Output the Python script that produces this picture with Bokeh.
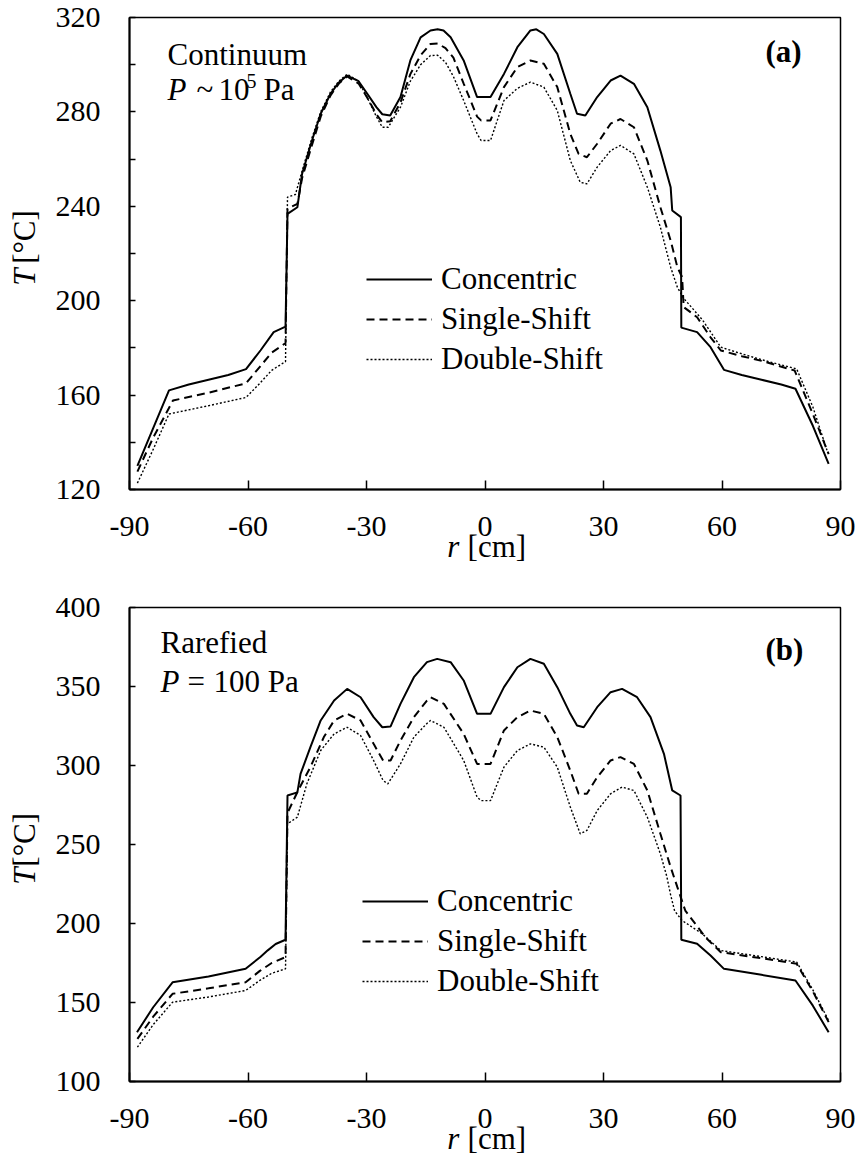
from bokeh.plotting import figure
from bokeh.models import Range1d, FixedTicker, Label, Legend, LegendItem, LinearAxis
from bokeh.layouts import column
from bokeh.embed import file_html
from bokeh.resources import INLINE

# ---------------- data ----------------
x_ticks = [-90, -60, -30, 0, 30, 60, 90]
x_labels = ["-90", "-60", "-30", "0", "30", "60", "90"]

y1_ticks = [120, 140, 160, 180, 200, 220, 240, 260, 280, 300, 320]
y1_labels = ["120", "", "160", "", "200", "", "240", "", "280", "", "320"]
y2_ticks = [100, 150, 200, 250, 300, 350, 400]
y2_labels = ["100", "150", "200", "250", "300", "350", "400"]

series_names = ["Concentric", "Single-Shift", "Double-Shift"]

# (a) Continuum
a_conc_r = [-88, -84, -80, -75, -70, -65, -60.5, -56.8, -53.5, -50.5, -50, -47.5, -46.3, -43.8, -41.6,
            -39.1, -37, -34.9, -32, -29.8, -27.5, -26, -24, -21.4, -18.9, -16.3, -13.8, -12, -10.5,
            -8.7, -5.4, -2, 1.4, 4.8, 8.2, 11.5, 13, 14.9, 18.3, 21.6, 23.3, 25.4, 28.4, 31.8, 34.3,
            37.7, 41.1, 44.4, 47, 47.4, 49.6, 49.7, 53.7, 57.1, 60.5, 65, 70, 75, 78.6, 83, 87]
a_conc_T = [130, 146, 162, 164.5, 166.5, 168.5, 171, 179, 186.7, 189, 236.8, 239.6, 253.8, 267.9, 279.2,
            287.7, 292.5, 295.4, 293, 287.7, 282, 279, 278.5, 286.3, 301.8, 311.6, 314.5, 315, 314.5,
            311.6, 301.8, 286.3, 286.3, 296.1, 307.4, 314.5, 315, 313, 304.6, 287.7, 279.2, 278.5, 286.3,
            293.3, 295.4, 291.9, 282, 263.6, 248.1, 238.2, 235.4, 188.6, 186.7, 180.3, 170.7, 168.5,
            166.5, 164.5, 162.7, 147, 130.9]

a_single_r = [-88, -84, -79, -70, -60.5, -57, -54, -50.5, -50, -47.5, -46.3, -43.8, -41.6, -39.1, -37,
              -34.9, -32, -29.8, -27.5, -26, -24, -21.4, -18.9, -16.3, -13.8, -12, -10, -8, -5.4, -2,
              -1, 1.4, 4.8, 8.2, 11.5, 14.9, 18.3, 21.6, 23.7, 25.8, 28.4, 31.8, 34.3, 37.7, 41.1, 44.4,
              47, 48.7, 49.9, 50.3, 53.7, 57.1, 59.7, 65, 70, 78.4, 83, 87]
a_single_T = [127.6, 142, 157.7, 161, 165, 172, 178, 182, 239, 241, 252, 266, 278, 287, 292,
              295, 292, 286, 279, 275.6, 276, 284, 296, 304, 308.8, 309, 307, 303, 292, 278,
              276.4, 276.4, 290.5, 299, 301.8, 300.4, 290.5, 270.7, 262.2, 260.8, 266.5, 275, 277, 273.5,
              259.4, 239.6, 225.5, 214.2, 210, 197.3, 193, 184.5, 178.9, 176.5, 174.5, 170.4, 152, 135]

a_double_r = [-88, -84, -80, -70, -60.5, -57, -54, -50.5, -50, -48, -46.3, -43.8, -41.6, -39.1, -37,
              -34.9, -32, -29.8, -27.5, -26, -24.5, -21.4, -18.9, -16.3, -13.8, -12, -10, -8, -5.4, -2,
              -1, 1.4, 4.8, 8.2, 11.5, 14.9, 18.3, 21.6, 24.1, 25.8, 28.4, 31.8, 34.3, 37.7, 41.1, 44.4,
              47, 48.7, 50.3, 55, 59.7, 65, 70, 78.9, 83, 86.6]
a_double_T = [122.7, 137, 152, 155.5, 159, 165, 170.5, 174.2, 243.9, 245, 255, 269, 280, 288.5, 293,
              296, 293, 286, 278, 273.5, 273.5, 282, 293, 300, 303.9, 304, 301, 295, 284.8, 270.7,
              267.9, 267.9, 284.8, 290, 292.6, 290.5, 280.6, 259.4, 250.2, 249.5, 256.6, 263.6, 265.8,
              262.2, 248.1, 231.1, 214.2, 205.7, 201, 192, 180.3, 177.5, 175, 171.1, 155, 136.5]

# (b) Rarefied
b_conc_r = [-88.1, -84, -79.1, -70, -60.6, -56.8, -55, -53, -50.5, -50, -47.5, -46.7, -44.2, -41.6, -38.2,
            -34.9, -31.5, -28.2, -26, -23.9, -21.4, -18, -14.7, -12.1, -8.7, -5.4, -2, 1.4, 4.8, 8.2,
            11.5, 14.9, 18.3, 21.6, 23.3, 25, 28.4, 31.8, 34.7, 38.5, 41.9, 45.3, 47.4, 49.5, 49.7,
            53.7, 57.1, 60.5, 70, 78.6, 83, 87]
b_conc_T = [131.2, 147, 162.8, 166.5, 171.3, 179, 183, 187, 189.7, 281, 283, 294.7, 311.6, 328.5, 341.1,
            348.5, 343.2, 330.6, 324.2, 324.7, 339, 355.9, 365.4, 367.5, 365.4, 353.8, 332.7, 332.7, 349.6,
            362.2, 367.5, 364.4, 349.6, 332.7, 325.3, 324.2, 336.9, 346.4, 348.5, 343.2, 330.6, 307.4,
            284.2, 281, 189.7, 187.2, 179.7, 171.3, 167.5, 163.9, 148, 131.2]

b_single_r = [-88, -84, -79.1, -70, -60.6, -57, -54, -50.5, -50, -47.3, -44.2, -40.8, -38.2, -34.9, -31.5,
              -28.2, -25.8, -23.9, -21.4, -18, -14.7, -13.8, -10.4, -5.4, -2, 1.4, 4.8, 8.2, 11.5, 14.9,
              18.3, 21.6, 23.7, 25.8, 28.4, 31.8, 34.3, 37.7, 41.1, 44.4, 47, 48.7, 50.7, 55.8, 59.7, 70,
              78.9, 83, 87]
b_single_T = [127, 141, 155.5, 159, 162.8, 170, 175, 178.7, 270, 284.2, 299, 318, 328.5, 332.7, 328.5,
              313.7, 303.2, 303.2, 315.8, 330.6, 341.1, 343.2, 339, 320, 301, 301, 322.2, 330.6, 334.8,
              332.7, 318, 296.8, 282.1, 282.1, 292.6, 303.2, 305.3, 301, 284.2, 256.8, 235.7, 223, 208.2,
              191.3, 181.8, 178, 174.5, 157, 137.6]

b_double_r = [-88, -84, -79.1, -70, -60.6, -57, -54, -50.5, -50, -47.5, -45.1, -41.6, -38.2, -34.9, -31.5,
              -28.2, -25.8, -24.6, -21.4, -18, -14.7, -13.8, -10.4, -5.4, -2, -1, 1.4, 4.8, 8.2, 11.5,
              14.9, 18.3, 21.6, 24.1, 25.8, 28.4, 31.8, 34.7, 37.7, 41.1, 44.4, 46, 47, 48, 49.9, 55,
              59.7, 70, 78.9, 83, 87]
b_double_T = [121.7, 136, 150.2, 153.5, 157.6, 164, 168.5, 171.3, 263.1, 267.3, 288.4, 309.5, 320, 324.2,
              319, 303.2, 290.5, 288.4, 301, 318, 326.6, 328.5, 324.2, 303.2, 280, 277.8, 277.8, 299,
              309.5, 313.7, 311.6, 299, 273.7, 256.8, 258.9, 271.5, 282.1, 286.3, 284.2, 267.3, 244.1,
              230, 218, 208, 201.9, 193.5, 182.9, 179, 175.6, 158, 138.6]

# ---------------- styling ----------------
FONT = "Liberation Serif"
TICK_FS = "30px"
TXT_FS = "31px"

X0, X1 = -90, 90
W = 855
FRAME_L, FRAME_R = 129, 840
LBL_SHIFT = 11  # screen px correction for annotation text placement


def rx(px):
    return X0 + (px - FRAME_L) * (X1 - X0) / (FRAME_R - FRAME_L)


def text_axis(side, pos, text, style, standoff):
    ax = LinearAxis(ticker=FixedTicker(ticks=[pos]), major_label_overrides={pos: text})
    ax.axis_line_color = None
    ax.major_tick_line_color = None
    ax.minor_tick_line_color = None
    ax.major_tick_in = 0
    ax.major_tick_out = 0
    ax.major_label_text_font = FONT
    ax.major_label_text_font_size = TXT_FS
    ax.major_label_text_font_style = style
    ax.major_label_text_color = "black"
    ax.major_label_standoff = standoff
    if side == "left":
        ax.major_label_orientation = "vertical"
    return ax


def make_fig(height, top_border, bottom_border, y0, y1, yticks, ylabels):
    p = figure(width=W, height=height, output_backend="svg", toolbar_location=None,
               x_range=Range1d(X0, X1), y_range=Range1d(y0, y1),
               min_border_left=FRAME_L, min_border_right=W - FRAME_R,
               min_border_top=top_border, min_border_bottom=bottom_border)
    p.xgrid.visible = False
    p.ygrid.visible = False
    p.outline_line_color = "black"
    p.outline_line_width = 1.5
    p.background_fill_color = "white"
    p.border_fill_color = "white"

    p.xaxis.ticker = FixedTicker(ticks=x_ticks)
    p.xaxis.major_label_overrides = {t: l for t, l in zip(x_ticks, x_labels)}
    p.yaxis.ticker = FixedTicker(ticks=yticks)
    p.yaxis.major_label_overrides = {t: l for t, l in zip(yticks, ylabels)}
    for ax in (p.xaxis, p.yaxis):
        ax.axis_line_width = 2
        ax.axis_line_color = "black"
        ax.major_tick_out = 0
        ax.minor_tick_line_color = None
        ax.major_tick_line_color = "black"
        ax.major_tick_line_width = 1.5
        ax.major_label_text_font = FONT
        ax.major_label_text_font_size = TICK_FS
        ax.major_label_text_color = "black"
    p.xaxis.major_tick_in = 9
    p.yaxis.major_tick_in = 6
    p.xaxis.major_label_standoff = 27
    p.yaxis.major_label_standoff = 29
    return p


def add_lines(p, data, legend_loc):
    styles = [dict(line_width=2.0, line_dash="solid"),
              dict(line_width=2.0, line_dash="8 5"),
              dict(line_width=1.4, line_dash="2 2")]
    items = []
    for name, (r, T), st in zip(series_names, data, styles):
        rend = p.line(r, T, line_color="black", **st)
        items.append(LegendItem(label=name, renderers=[rend]))
    leg = Legend(items=items, location=legend_loc, padding=0, margin=0, spacing=0,
                 glyph_width=66, glyph_height=40, label_height=40, label_standoff=9,
                 label_text_font=FONT, label_text_font_size=TXT_FS, label_text_color="black",
                 border_line_color=None, background_fill_alpha=0)
    p.add_layout(leg)


def lab(p, x, y, text, style="normal", size=TXT_FS):
    p.add_layout(Label(x=x, y=y, text=text, text_font=FONT, text_font_size=size,
                       text_font_style=style, text_baseline="alphabetic", text_align="left",
                       text_color="black", y_offset=LBL_SHIFT))


def axis_titles(p, t_pos, c_pos, r_pos, cm_pos):
    # y title: "[°C]" upright + italic "T", aligned on one line
    p.add_layout(text_axis("left", c_pos, "[°C]", "normal", 10), "left")
    p.add_layout(text_axis("left", t_pos, "T", "italic", -38), "left")
    # x title: italic "r" + upright "[cm]"
    p.add_layout(text_axis("below", cm_pos, "[cm]", "normal", -10), "below")
    p.add_layout(text_axis("below", r_pos, "r", "italic", -38), "below")


# ---------------- panel (a) ----------------
A_TOP, A_BOT = 17, 489
H1 = 568


def ty1(py):
    return 120 + (A_BOT - py) * 200 / (A_BOT - A_TOP)


p1 = make_fig(H1, A_TOP, H1 - A_BOT, 120, 320, y1_ticks, y1_labels)
add_lines(p1, [(a_conc_r, a_conc_T), (a_single_r, a_single_T), (a_double_r, a_double_T)], (237, 110))

lab(p1, rx(167), ty1(65), "Continuum")
lab(p1, rx(167), ty1(100), "P", "italic")
lab(p1, rx(196), ty1(100), "~")
lab(p1, rx(218), ty1(100), "10")
lab(p1, rx(246), ty1(91), "5", size="20px")
lab(p1, rx(263), ty1(100), "Pa")
lab(p1, rx(765), ty1(62), "(a)", "bold")
axis_titles(p1, round(ty1(275.5)), round(ty1(236.5)), round(rx(453)), round(rx(496.5)))

# ---------------- panel (b) ----------------
B_TOP, B_BOT = 607, 1081
P2_Y = H1
H2 = 1158 - H1


def ty2(py):
    return 100 + (B_BOT - py) * 300 / (B_BOT - B_TOP)


p2 = make_fig(H2, B_TOP - P2_Y, P2_Y + H2 - B_BOT, 100, 400, y2_ticks, y2_labels)
add_lines(p2, [(b_conc_r, b_conc_T), (b_single_r, b_single_T), (b_double_r, b_double_T)], (233, 80))

lab(p2, rx(160), ty2(653), "Rarefied")
lab(p2, rx(160), ty2(692), "P", "italic")
lab(p2, rx(187), ty2(692), "=")
lab(p2, rx(213), ty2(692), "100 Pa")
lab(p2, rx(765), ty2(660), "(b)", "bold")
axis_titles(p2, round(ty2(875)), round(ty2(838.5)), round(rx(453)), round(rx(496)))

layout = column(p1, p2, spacing=0)
open("out.html", "w").write(file_html(layout, INLINE))
